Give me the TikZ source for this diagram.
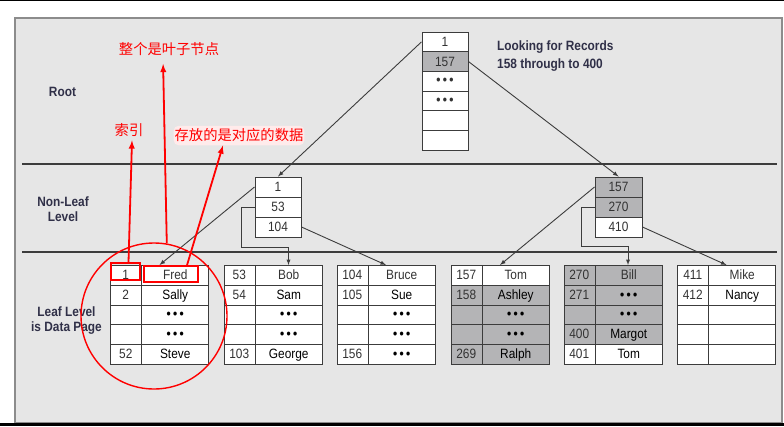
\documentclass[tikz,border=0pt]{standalone}
\usepackage{fontspec}
\setmainfont{Liberation Sans}[FakeStretch=0.88]
\newfontfamily\cjk{Noto Sans CJK SC}
\usetikzlibrary{arrows,shapes.multipart}
\definecolor{panel}{RGB}{230,230,230}
\definecolor{rim}{RGB}{140,140,140}
\definecolor{hit}{RGB}{180,180,182}
\definecolor{ink}{RGB}{60,60,60}
\definecolor{navy}{RGB}{48,48,72}
\newcommand{\dd}{{\bfseries\textbullet\hspace{2.4pt}\textbullet\hspace{2.4pt}\textbullet}}
\newcommand{\rw}[2]{\rule[-5.5pt]{0pt}{18.8pt}\makebox[30.5pt]{#1}{\color{ink}\vrule width 1pt}\makebox[66.5pt]{#2}}
\tikzstyle{keycell} = [draw=ink,line width=1pt,fill=white,minimum width=46pt,minimum height=19.7pt,inner sep=0pt,text=black!80,font=\fontsize{13.5}{14}\selectfont]
\tikzstyle{nlcell} = [keycell,minimum height=20pt]
\tikzstyle{page} = [draw=ink,line width=1pt,inner sep=0pt,rectangle split,rectangle split parts=5,rectangle split part fill={white},text=black!80,font=\fontsize{13.5}{14}\selectfont]
\tikzstyle{lvl} = [align=center,inner sep=0pt,text=navy,font=\bfseries\fontsize{13.5}{15}\selectfont]
\tikzstyle{seam} = [draw=ink,line width=1.2pt]
\tikzstyle{link} = [draw=ink,line width=0.9pt,-latex]
\tikzstyle{note} = [inner xsep=1pt,inner ysep=3pt,text height=12pt,text depth=1.5pt,text=red,font=\cjk\fontsize{14.3}{16}\selectfont]
\tikzstyle{redbox} = [draw=red,line width=1.6pt,inner sep=0pt]
\tikzstyle{pointer} = [draw=red,line width=1.8pt,-latex]

\begin{document}
\begin{tikzpicture}[x=1pt,y=-1pt,node distance=19.7pt]
  \useasboundingbox (0,0) rectangle (784,426);
  \fill [white] (0,0) rectangle (784,426);
  \fill [black] (0,0) rectangle (784,1);
  \fill [black] (0,422.5) rectangle (784,426);
  \draw [rim,line width=1.2pt,fill=panel] (15,18) rectangle (782,422.5);
  \draw [seam] (22,164) -- (777,164);
  \draw [seam] (22,252) -- (777,252);
  % levels
  \node (root) [lvl] at (62.5,92) {Root};
  \node (nonleaf) [lvl] at (63,209.5) {Non-Leaf\\Level};
  \node (leaf) [lvl] at (66.5,320.6) {Leaf Level\\is Data Page};
  \node (query) [lvl,anchor=west,align=left,font=\bfseries\fontsize{13.5}{18.3}\selectfont] at (497,56.3) {Looking for Records\\158 through to 400};
  % root page
  \node (r1) [keycell] at (445,41.85) {1};
  \node (r2) [keycell,fill=hit,below of=r1] {157};
  \node (r3) [keycell,below of=r2] {\dd};
  \node (r4) [keycell,below of=r3] {\dd};
  \node (r5) [keycell,below of=r4] {};
  \node (r6) [keycell,below of=r5] {};
  % non-leaf pages
  \begin{scope}[node distance=20pt]
    \node (n1) [nlcell] at (278,187) {1};
    \node (n2) [nlcell,below of=n1] {53};
    \node (n3) [nlcell,below of=n2] {104};
    \node (m1) [nlcell,fill=hit,minimum width=47pt] at (618.5,187) {157};
    \node (m2) [nlcell,fill=hit,minimum width=47pt,below of=m1] {270};
    \node (m3) [nlcell,minimum width=47pt,below of=m2] {410};
  \end{scope}
  % leaf pages
  \node (p1) [page] at (159.5,315) {\rw{1}{Fred}\nodepart{two}\rw{2}{Sally}\nodepart{three}\rw{}{\dd}\nodepart{four}\rw{}{\dd}\nodepart{five}\rw{52}{Steve}};
  \node (p2) [page] at (273,315) {\rw{53}{Bob}\nodepart{two}\rw{54}{Sam}\nodepart{three}\rw{}{\dd}\nodepart{four}\rw{}{\dd}\nodepart{five}\rw{103}{George}};
  \node (p3) [page] at (386,315) {\rw{104}{Bruce}\nodepart{two}\rw{105}{Sue}\nodepart{three}\rw{}{\dd}\nodepart{four}\rw{}{\dd}\nodepart{five}\rw{156}{\dd}};
  \node (p4) [page,rectangle split part fill={white,hit}] at (500,315) {\rw{157}{Tom}\nodepart{two}\rw{158}{Ashley}\nodepart{three}\rw{}{\dd}\nodepart{four}\rw{}{\dd}\nodepart{five}\rw{269}{Ralph}};
  \node (p5) [page,rectangle split part fill={hit,hit,hit,hit,white}] at (613,315) {\rw{270}{Bill}\nodepart{two}\rw{271}{\dd}\nodepart{three}\rw{}{\dd}\nodepart{four}\rw{400}{Margot}\nodepart{five}\rw{401}{Tom}};
  \node (p6) [page] at (726.5,315) {\rw{411}{Mike}\nodepart{two}\rw{412}{Nancy}\nodepart{three}\rw{}{}\nodepart{four}\rw{}{}\nodepart{five}\rw{}{}};
  % tree links
  \draw [link] (r1.west) -- (n1.north);
  \draw [link] (r2.east) -- (m1.north);
  \draw [link] (n1.west) -- (p1.north);
  \draw [link] (n2.west) -| ++(-13,40) -| ([xshift=15.5pt]p2.north);
  \draw [link] (n3.east) -- (p3.north);
  \draw [link] (m1.west) -- (p4.north);
  \draw [link] (m2.west) -| ++(-13,39) -| ([xshift=15pt]p5.north);
  \draw [link] (m3.east) -- (p6.north);
  % red notes
  \node (ring) [circle,draw=red,line width=1.4pt,minimum size=146pt,inner sep=0pt] at (154,316) {};
  \node (idx) [redbox,minimum width=29pt,minimum height=17pt] at (125.5,271.5) {};
  \node (val) [redbox,minimum width=54pt,minimum height=16pt] at (171,274) {};
  \node (leafnote) [note] at (169,49) {整个是叶子节点};
  \node (keynote) [note] at (129,130.5) {索引};
  \node (datanote) [note,fill=red!8,rounded corners=5pt] at (239,135.5) {存放的是对应的数据};
  \draw [pointer,shorten >=5pt] (ring.80) -- ([xshift=-6pt]leafnote.south);
  \draw [pointer] ([xshift=3pt]idx.north) -- ([xshift=3pt]keynote.south);
  \draw [pointer] ([xshift=16pt]val.north) -- ([xshift=-16pt]datanote.south);
\end{tikzpicture}
\end{document}
